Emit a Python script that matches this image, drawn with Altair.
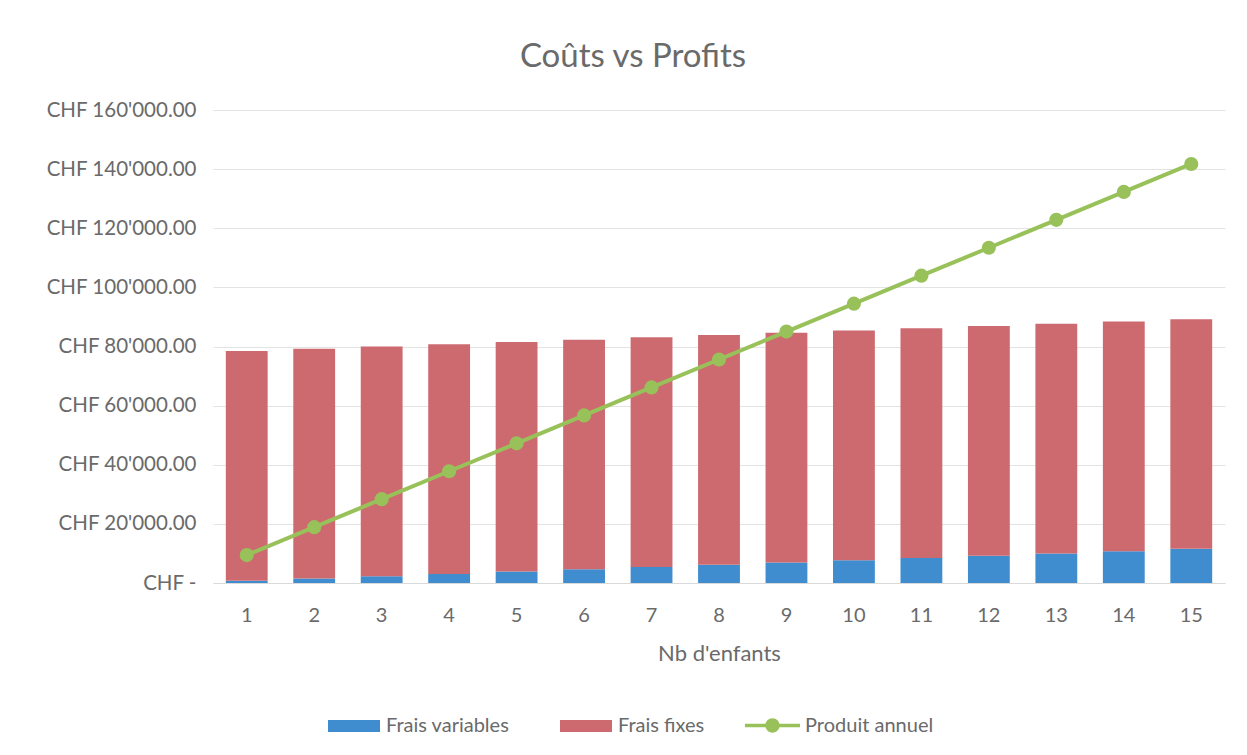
import altair as alt
import pandas as pd

enfants = list(range(1, 16))
frais_variables = [770, 1540, 2310, 3080, 3850, 4620, 5390, 6160, 6930, 7700, 8470, 9240, 10010, 10780, 11550]
frais_fixes = [77700] * 15
produit_annuel = [9450, 18900, 28350, 37800, 47250, 56700, 66150, 75600, 85050, 94500, 103950, 113400, 122850, 132300, 141750]

series = ["Frais variables", "Frais fixes"]
colors = ["#3f8ccf", "#cc6a6f"]
green = "#98c15a"
font = "Lato"
gray = "#6a6a6a"

rows = []
for i, n in enumerate(enfants):
    rows.append({"n": n, "serie": "Frais variables", "val": frais_variables[i], "ord": 0})
    rows.append({"n": n, "serie": "Frais fixes", "val": frais_fixes[i], "ord": 1})
bars_df = pd.DataFrame(rows)
line_df = pd.DataFrame({"n": enfants, "val": produit_annuel, "serie": ["Produit annuel"] * 15})

xenc = alt.X("n:O", title="Nb d'enfants",
             scale=alt.Scale(paddingInner=0.38, paddingOuter=0.19),
             axis=alt.Axis(labelAngle=0, ticks=False, domainColor="#d9d9d9",
                           labelPadding=22, titlePadding=18, labelFontSize=20,
                           titleFontSize=22, labelColor=gray, titleColor=gray,
                           labelFont=font, titleFont=font, titleFontWeight="normal"))
yscale = alt.Scale(domain=[0, 160000])
yaxis = alt.Axis(values=[0, 20000, 40000, 60000, 80000, 100000, 120000, 140000, 160000],
                 labelExpr="datum.value == 0 ? 'CHF -' : 'CHF ' + replace(format(datum.value, ',.2f'), ',', \"'\")",
                 ticks=False, domain=False, gridColor="#e3e3e3", labelPadding=17,
                 labelFontSize=20.5, labelColor=gray, labelFont=font, title=None)

rect_path = "M-1,-0.23L1,-0.23L1,0.23L-1,0.23Z"
line_path = ("M-1,-0.06L1,-0.06L1,0.06L-1,0.06Z "
             "M-0.26,0A0.26,0.26 0 1,1 0.26,0A0.26,0.26 0 1,1 -0.26,0Z")

bars = alt.Chart(bars_df).mark_bar().encode(
    x=xenc,
    y=alt.Y("val:Q", stack="zero", scale=yscale, axis=yaxis),
    color=alt.Color("serie:N", scale=alt.Scale(domain=series, range=colors),
                    legend=alt.Legend(orient="none", legendX=115, legendY=590,
                                      direction="horizontal", title=None,
                                      symbolType=rect_path, symbolSize=2704,
                                      symbolStrokeWidth=0, labelFontSize=20,
                                      labelColor=gray, labelFont=font,
                                      labelOffset=6, columnPadding=50)),
    order=alt.Order("ord:Q"),
)

line = alt.Chart(line_df).mark_line(strokeWidth=4).encode(
    x=alt.X("n:O"),
    y=alt.Y("val:Q", scale=yscale),
    stroke=alt.Stroke("serie:N", scale=alt.Scale(domain=["Produit annuel"], range=[green]),
                      legend=alt.Legend(orient="none", legendX=532, legendY=588,
                                        title=None, symbolType=line_path, symbolSize=3025,
                                        symbolFillColor=green, symbolStrokeWidth=0,
                                        labelFontSize=20, labelColor=gray, labelFont=font,
                                        labelOffset=5)),
)

points = alt.Chart(line_df).mark_circle(size=200, opacity=1, color=green).encode(
    x=alt.X("n:O"),
    y=alt.Y("val:Q", scale=yscale),
)

chart = alt.layer(bars, line, points).properties(
    width=1012, height=473,
    background="white",
    title=alt.Title("Coûts vs Profits", fontSize=33, font=font, color=gray,
                    fontWeight="normal", dx=-86, offset=26),
    autosize=alt.AutoSizeParams(type="none"),
    padding={"left": 213, "top": 110, "right": 22, "bottom": 172},
).configure_view(stroke=None)

chart.save("out.html", embed_options={"renderer": "svg", "actions": False})
